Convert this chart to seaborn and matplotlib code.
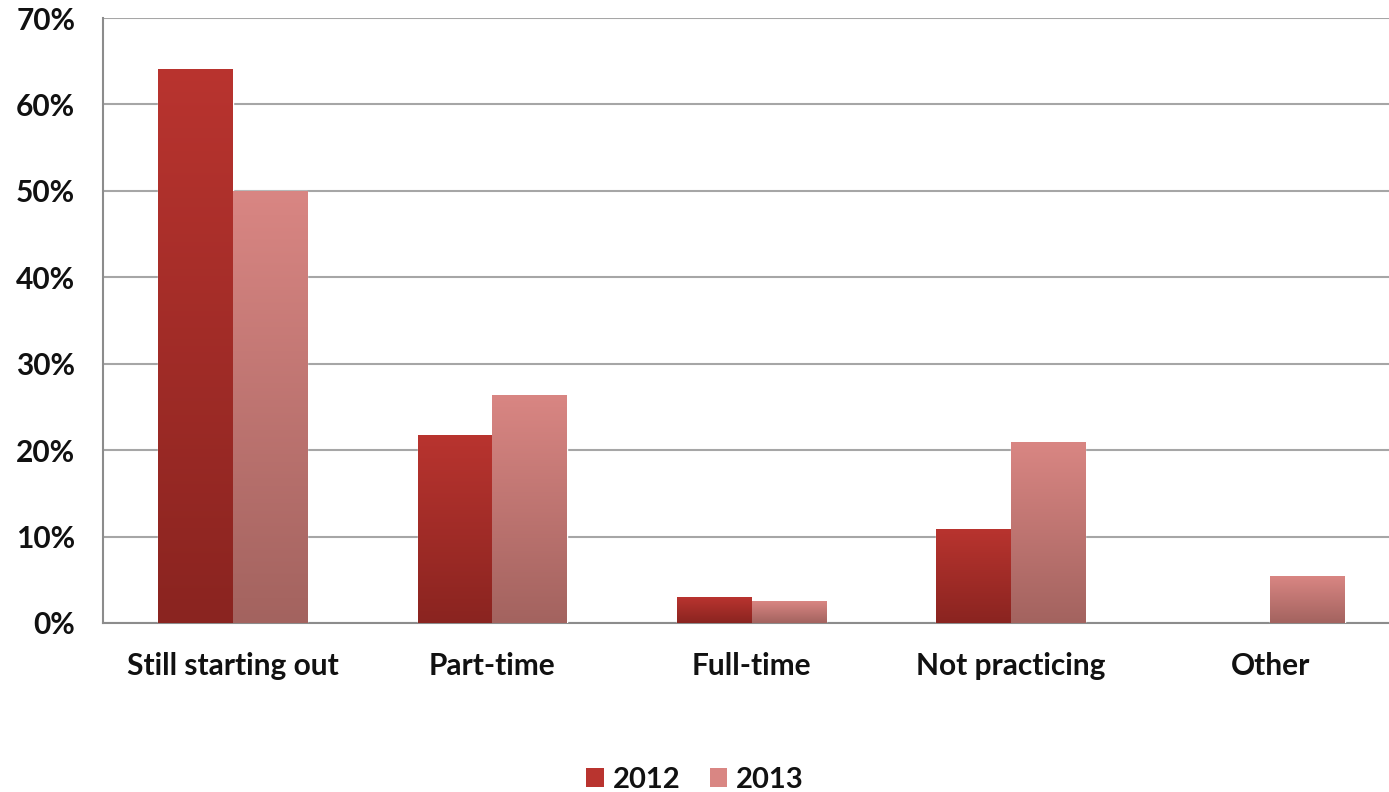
import numpy as np
import pandas as pd
import seaborn as sns
import matplotlib.pyplot as plt
from matplotlib.colors import LinearSegmentedColormap
from matplotlib.patches import Patch
from matplotlib.ticker import FuncFormatter

# chart data
categories = ['Still starting out', 'Part-time', 'Full-time', 'Not practicing', 'Other']
years = ['2012', '2013']
vals_2012 = [64.1, 21.8, 3.0, 10.9, 0.0]
vals_2013 = [50.0, 26.4, 2.5, 20.9, 5.4]

# top / bottom colours of the gradient fill
grad_colors = {'2012': ('#b9342f', '#8a2420'), '2013': ('#d98683', '#a3635f')}

df = pd.DataFrame({
    'category': categories * 2,
    'year': [years[0]] * len(categories) + [years[1]] * len(categories),
    'value': vals_2012 + vals_2013,
})

sns.set_style('white')
plt.rcParams['font.family'] = ['Lato', 'DejaVu Sans']
plt.rcParams['font.weight'] = 'bold'
plt.rcParams['text.color'] = '#111111'
plt.rcParams['xtick.labelcolor'] = '#111111'
plt.rcParams['ytick.labelcolor'] = '#111111'

fig = plt.figure(figsize=(13.89, 7.92), dpi=100)
ax = fig.add_axes([103 / 1389, 1 - 623 / 792, 1297 / 1389, (623 - 18) / 792])

palette = {y: grad_colors[y][0] for y in years}
sns.barplot(data=df, x='category', y='value', hue='year', order=categories,
            hue_order=years, palette=palette, width=0.575, saturation=1,
            legend=False, ax=ax, zorder=3)

# gradient fill for every bar
for year, cont in zip(years, ax.containers):
    top, bot = grad_colors[year]
    cmap = LinearSegmentedColormap.from_list('g' + year, [bot, top])
    for bar in cont:
        h = bar.get_height()
        if h <= 0:
            bar.set_visible(False)
            continue
        x0 = bar.get_x()
        w = bar.get_width()
        grad = np.linspace(0, 1, 256).reshape(-1, 1)
        im = ax.imshow(grad, cmap=cmap, origin='lower', aspect='auto',
                       extent=(x0, x0 + w, 0, h), zorder=3.5)
        im.set_clip_path(bar)

ax.set_xlim(-0.5, 4.5)
ax.set_ylim(0, 70)
ax.set_yticks(np.arange(0, 71, 10))
ax.yaxis.set_major_formatter(FuncFormatter(lambda v, p: f'{v:.0f}%'))
ax.yaxis.grid(True, color='#a6a6a6', lw=1.5, zorder=0)
ax.set_axisbelow(True)

ax.set_xticks(np.arange(-0.5, 4.6, 1), minor=False)
ax.set_xticklabels([])
ax.set_xticks(range(len(categories)), minor=True)
ax.set_xticklabels(categories, minor=True)
ax.tick_params(axis='x', which='minor', length=0, pad=21, labelsize=21.5)
ax.tick_params(axis='x', which='major', length=10, width=1.5, color='#8c8c8c', direction='out')
ax.tick_params(axis='y', length=8, width=1.5, color='#8c8c8c', labelsize=21.5, pad=12)
ax.set_xlabel('')
ax.set_ylabel('')

for s in ['top', 'right']:
    ax.spines[s].set_visible(False)
for s in ['left', 'bottom']:
    ax.spines[s].set_color('#8c8c8c')
    ax.spines[s].set_linewidth(1.5)

handles = [Patch(facecolor=grad_colors[y][0], edgecolor='none') for y in years]
fig.legend(handles, years, loc='center', bbox_to_anchor=(695 / 1389, 1 - 780 / 792),
           ncol=2, frameon=False, fontsize=21, handlelength=0.6, handleheight=0.6,
           handletextpad=0.3, columnspacing=1.0)

fig.savefig('out.png', dpi=100)
